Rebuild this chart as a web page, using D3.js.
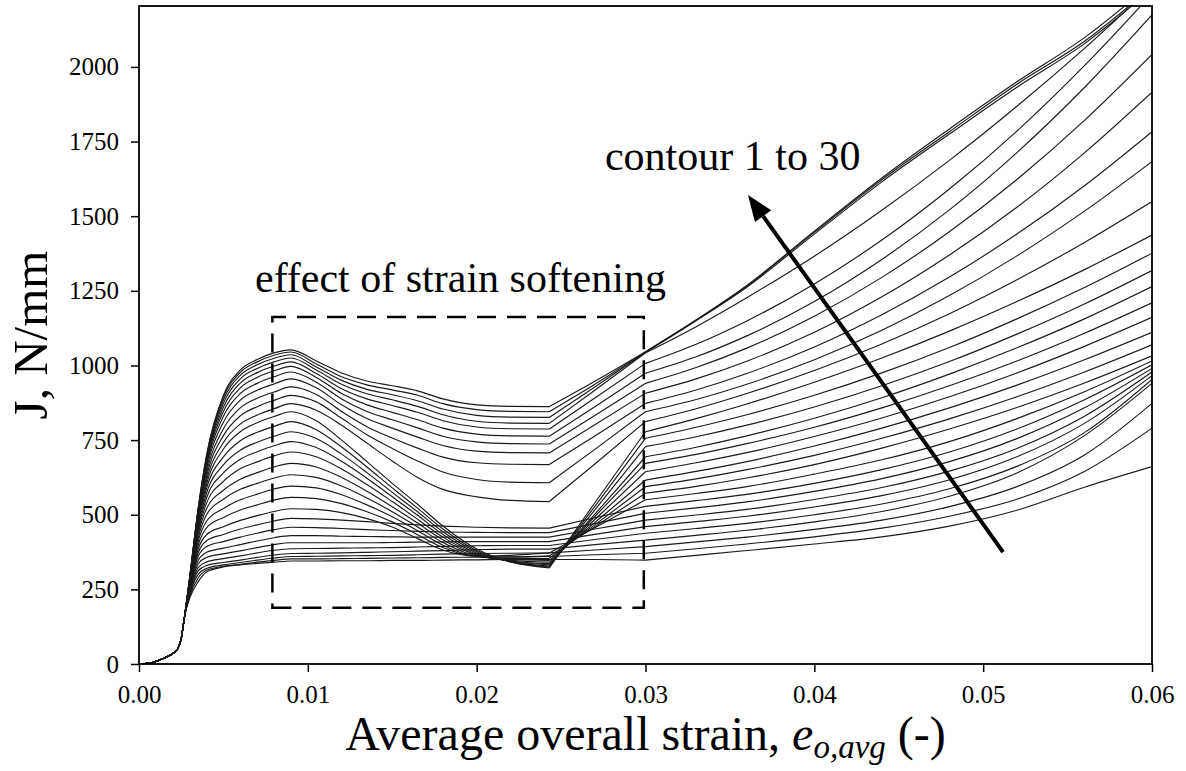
<!DOCTYPE html>
<html><head><meta charset="utf-8">
<script src="https://cdn.jsdelivr.net/npm/d3@7"></script>
<style>body{margin:0;background:#fff}svg{display:block}</style>
</head><body>
<svg id="chart" width="1186" height="771"></svg>
<script>
// ---- data ----
// common initial rise shared by every contour
const strainRise = [0, 0.0008, 0.0015, 0.002, 0.0023, 0.0025, 0.0027];
const jRise = [0, 5, 20, 35, 52, 85, 160];
// strain grid for the per-contour values
const strainGrid = [0.003, 0.0035, 0.004, 0.005, 0.006, 0.007, 0.008, 0.009, 0.0105, 0.012, 0.0135, 0.015, 0.0165, 0.018, 0.020, 0.022, 0.0243, 0.027, 0.030, 0.033, 0.036, 0.040, 0.044, 0.048, 0.052, 0.056, 0.060];
const contour30 = [290, 520, 700, 900, 985, 1020, 1042, 1052, 1015, 975, 948, 932, 915, 888, 868, 863, 862, 947, 1046, 1152, 1268, 1450, 1628, 1792, 1950, 2098, 2280];
const contour29 = [289, 518, 695, 893, 977, 1012, 1034, 1045, 1005, 962, 935, 918, 900, 872, 852, 846, 845, 937, 1045, 1152, 1266, 1446, 1622, 1783, 1942, 2086, 2268];
const contour28 = [288, 515, 690, 884, 967, 1002, 1024, 1036, 995, 950, 920, 902, 882, 854, 833, 827, 826, 928, 1044, 1150, 1262, 1440, 1615, 1775, 1932, 2078, 2262];
const contour27 = [287, 512, 684, 873, 955, 990, 1012, 1025, 985, 937, 905, 885, 863, 835, 813, 807, 806, 917, 1042, 1130, 1227, 1366, 1520, 1687, 1868, 2062, 2270];
const contour26 = [286, 508, 677, 860, 941, 976, 998, 1012, 973, 922, 888, 866, 843, 815, 794, 788, 787, 891, 1007, 1071, 1149, 1273, 1420, 1591, 1785, 2004, 2245];
const contour25 = [285, 504, 670, 846, 925, 960, 982, 997, 960, 906, 868, 843, 818, 790, 770, 764, 763, 862, 974, 1029, 1099, 1214, 1355, 1521, 1713, 1931, 2174];
const contour24 = [284, 500, 662, 830, 906, 940, 962, 978, 944, 888, 846, 818, 791, 763, 744, 738, 737, 832, 940, 993, 1058, 1165, 1295, 1448, 1623, 1821, 2042];
const contour23 = [283, 495, 652, 810, 884, 917, 938, 955, 925, 868, 822, 790, 760, 732, 713, 708, 707, 801, 907, 955, 1014, 1111, 1230, 1370, 1530, 1712, 1915];
const contour22 = [282, 490, 640, 788, 858, 890, 911, 928, 903, 846, 795, 757, 723, 693, 674, 669, 668, 764, 873, 918, 973, 1062, 1170, 1296, 1440, 1602, 1783];
const contour21 = [280, 484, 628, 765, 831, 862, 883, 900, 878, 823, 768, 722, 680, 643, 618, 609, 607, 719, 845, 886, 937, 1019, 1118, 1234, 1367, 1517, 1683];
const contour20 = [279, 478, 615, 742, 804, 834, 855, 872, 850, 800, 740, 680, 625, 585, 560, 548, 544, 670, 812, 855, 906, 983, 1072, 1173, 1287, 1412, 1549];
const contour19 = [278, 472, 602, 720, 778, 808, 829, 845, 815, 750, 678, 605, 535, 462, 385, 342, 322, 540, 778, 822, 871, 944, 1025, 1115, 1214, 1321, 1437];
const contour18 = [276, 465, 588, 694, 748, 776, 796, 812, 785, 727, 660, 590, 522, 452, 380, 342, 325, 528, 756, 793, 835, 900, 975, 1060, 1156, 1261, 1376];
const contour17 = [274, 458, 572, 667, 716, 743, 763, 778, 755, 703, 641, 575, 510, 443, 376, 343, 328, 516, 728, 761, 800, 861, 932, 1013, 1105, 1206, 1318];
const contour16 = [272, 450, 556, 640, 686, 711, 731, 745, 725, 679, 622, 560, 498, 434, 372, 344, 332, 502, 694, 726, 764, 823, 892, 971, 1059, 1156, 1264];
const contour15 = [270, 442, 539, 612, 654, 677, 697, 710, 694, 653, 601, 544, 485, 425, 368, 345, 336, 494, 672, 702, 738, 793, 858, 932, 1015, 1108, 1210];
const contour14 = [268, 432, 520, 582, 619, 641, 660, 672, 660, 625, 579, 527, 472, 416, 365, 347, 341, 484, 644, 674, 708, 762, 824, 895, 975, 1064, 1161];
const contour13 = [265, 421, 500, 552, 585, 605, 623, 634, 625, 596, 556, 510, 459, 407, 362, 350, 347, 474, 616, 645, 678, 730, 790, 858, 934, 1019, 1111];
const contour12 = [262, 410, 478, 521, 550, 569, 586, 596, 590, 567, 533, 493, 446, 398, 360, 353, 354, 466, 594, 620, 651, 699, 756, 821, 895, 978, 1069];
const contour11 = [259, 397, 456, 491, 516, 533, 549, 558, 554, 537, 510, 476, 433, 390, 360, 358, 362, 460, 572, 595, 623, 668, 723, 787, 859, 941, 1032];
const contour10 = [256, 384, 433, 460, 481, 497, 511, 520, 518, 507, 487, 459, 420, 382, 362, 364, 372, 456, 550, 571, 594, 636, 684, 745, 822, 912, 1015];
const contour09 = [253, 372, 413, 434, 452, 466, 479, 488, 486, 482, 477, 471, 466, 462, 458, 456, 455, 490, 528, 547, 568, 605, 651, 710, 787, 885, 1002];
const contour08 = [250, 360, 393, 410, 425, 438, 450, 458, 457, 454, 450, 447, 444, 442, 441, 440, 440, 470, 505, 523, 543, 578, 621, 678, 755, 858, 990];
const contour07 = [246, 347, 374, 388, 400, 412, 423, 430, 430, 428, 427, 426, 425, 425, 425, 425, 425, 452, 482, 499, 518, 551, 591, 646, 722, 830, 978];
const contour06 = [242, 335, 357, 369, 379, 390, 400, 406, 406, 406, 406, 407, 408, 409, 410, 410, 410, 434, 460, 477, 495, 526, 564, 617, 694, 806, 966];
const contour05 = [238, 323, 342, 353, 362, 372, 381, 386, 387, 388, 389, 390, 392, 394, 396, 397, 397, 417, 438, 454, 471, 500, 536, 587, 662, 775, 953];
const contour04 = [234, 312, 330, 340, 348, 357, 365, 370, 371, 372, 374, 376, 378, 380, 383, 385, 385, 400, 415, 431, 448, 476, 511, 562, 640, 765, 940];
const contour03 = [230, 300, 320, 332, 340, 348, 355, 360, 361, 362, 363, 364, 366, 368, 370, 371, 372, 382, 393, 409, 425, 451, 482, 527, 594, 700, 873];
const contour02 = [225, 288, 314, 327, 334, 341, 347, 352, 352, 353, 354, 355, 356, 357, 358, 359, 360, 366, 371, 386, 402, 426, 455, 495, 552, 645, 790];
const contour01 = [220, 275, 308, 325, 332, 337, 341, 345, 345, 346, 346, 347, 347, 348, 349, 350, 350, 350, 348, 364, 380, 402, 426, 462, 515, 592, 661];

const xTicks = [0, 0.01, 0.02, 0.03, 0.04, 0.05, 0.06];
const yTicks = [0, 250, 500, 750, 1000, 1250, 1500, 1750, 2000];
// annotation geometry in data units
const boxStrain = [0.0079, 0.0299];
const boxJ = [188, 1162];
const arrowTail = [0.05118, 375];
const arrowHead = [0.03607, 1571];

const contours = [contour01, contour02, contour03, contour04, contour05, contour06, contour07, contour08, contour09, contour10,
  contour11, contour12, contour13, contour14, contour15, contour16, contour17, contour18, contour19, contour20,
  contour21, contour22, contour23, contour24, contour25, contour26, contour27, contour28, contour29, contour30];

// ---- drawing ----
const svg = d3.select('#chart');
const W = 1186, H = 771;
const x = d3.scaleLinear().domain([0, 0.06]).range([139, 1152]);
const y = d3.scaleLinear().domain([0, 2204]).range([664, 6]);
const serif = '"Liberation Serif", "Times New Roman", serif';

svg.append('rect').attr('width', W).attr('height', H).attr('fill', '#fff');

svg.append('clipPath').attr('id', 'plotclip').append('rect')
  .attr('x', x(0)).attr('y', y(2204)).attr('width', x(0.06) - x(0)).attr('height', y(0) - y(2204));

const line = d3.line().x(d => x(d[0])).y(d => y(d[1])).curve(d3.curveMonotoneX);
const iKink1 = strainGrid.indexOf(0.0243);
const iKink2 = strainGrid.indexOf(0.030);

const g = svg.append('g').attr('clip-path', 'url(#plotclip)');
contours.forEach(vals => {
  const rise = strainRise.map((s, i) => [s, jRise[i]]);
  const pts = strainGrid.map((s, i) => [s, vals[i]]);
  const pieces = [
    rise.concat(pts.slice(0, iKink1 + 1)),
    pts.slice(iKink1, iKink2 + 1),
    pts.slice(iKink2)
  ];
  const dPath = pieces.map(p => line(p)).join('');
  g.append('path').attr('d', dPath).attr('fill', 'none')
    .attr('stroke', '#1a1a1a').attr('stroke-width', 1.15).attr('stroke-linejoin', 'round');
});

// dashed box
const bx0 = x(boxStrain[0]), bx1 = x(boxStrain[1]), by0 = y(boxJ[0]), by1 = y(boxJ[1]);
svg.append('path')
  .attr('d', `M${bx0},${by0}L${bx1},${by0}L${bx1},${by1}L${bx0},${by1}Z`)
  .attr('fill', 'none').attr('stroke', '#000').attr('stroke-width', 2.5)
  .attr('stroke-dasharray', '19,11');

// arrow
const ax0 = x(arrowTail[0]), ay0 = y(arrowTail[1]), ax1 = x(arrowHead[0]), ay1 = y(arrowHead[1]);
const ang = Math.atan2(ay1 - ay0, ax1 - ax0);
const headLen = 26, headHalf = 10;
const bxh = ax1 - headLen * Math.cos(ang), byh = ay1 - headLen * Math.sin(ang);
svg.append('line').attr('x1', ax0).attr('y1', ay0).attr('x2', bxh).attr('y2', byh)
  .attr('stroke', '#000').attr('stroke-width', 4);
svg.append('path')
  .attr('d', `M${ax1},${ay1}L${bxh + headHalf * Math.sin(ang)},${byh - headHalf * Math.cos(ang)}L${bxh - headHalf * Math.sin(ang)},${byh + headHalf * Math.cos(ang)}Z`)
  .attr('fill', '#000');

// annotation texts
svg.append('text').attr('x', x(0.00687)).attr('y', y(1246))
  .attr('font-family', serif).attr('font-size', 42).attr('fill', '#000')
  .text('effect of strain softening');
svg.append('text').attr('x', x(0.0276)).attr('y', y(1655))
  .attr('font-family', serif).attr('font-size', 42).attr('fill', '#000')
  .text('contour 1 to 30');

// axes
const xAxis = d3.axisBottom(x).tickValues(xTicks).tickFormat(d3.format('.2f')).tickSize(8).tickPadding(13);
const yAxis = d3.axisLeft(y).tickValues(yTicks).tickFormat(d3.format('d')).tickSize(8).tickPadding(12);
const gx = svg.append('g').attr('transform', `translate(0,${y(0)})`).call(xAxis);
const gy = svg.append('g').attr('transform', `translate(${x(0)},0)`).call(yAxis);
[gx, gy].forEach(a => {
  a.select('.domain').remove();
  a.selectAll('.tick line').attr('stroke', '#000').attr('stroke-width', 1.5);
  a.selectAll('.tick text').attr('font-family', serif).attr('font-size', 25).attr('fill', '#000');
});

// frame
svg.append('rect').attr('x', x(0)).attr('y', y(2204)).attr('width', x(0.06) - x(0)).attr('height', y(0) - y(2204))
  .attr('fill', 'none').attr('stroke', '#000').attr('stroke-width', 1.8);

// axis titles
svg.append('text').attr('transform', `translate(47,${(y(0) + y(2204)) / 2}) rotate(-90)`)
  .attr('text-anchor', 'middle').attr('font-family', serif).attr('font-size', 49).attr('fill', '#000')
  .text('J, N/mm');
const xt = svg.append('text').attr('x', (x(0) + x(0.06)) / 2).attr('y', 750)
  .attr('text-anchor', 'middle').attr('font-family', serif).attr('font-size', 48).attr('fill', '#000');
xt.append('tspan').text('Average overall strain, ');
xt.append('tspan').attr('font-style', 'italic').text('e');
xt.append('tspan').attr('font-style', 'italic').attr('font-size', 33).attr('dy', 8).text('o,avg');
xt.append('tspan').attr('dy', -8).text(' (-)');
</script>
</body></html>
